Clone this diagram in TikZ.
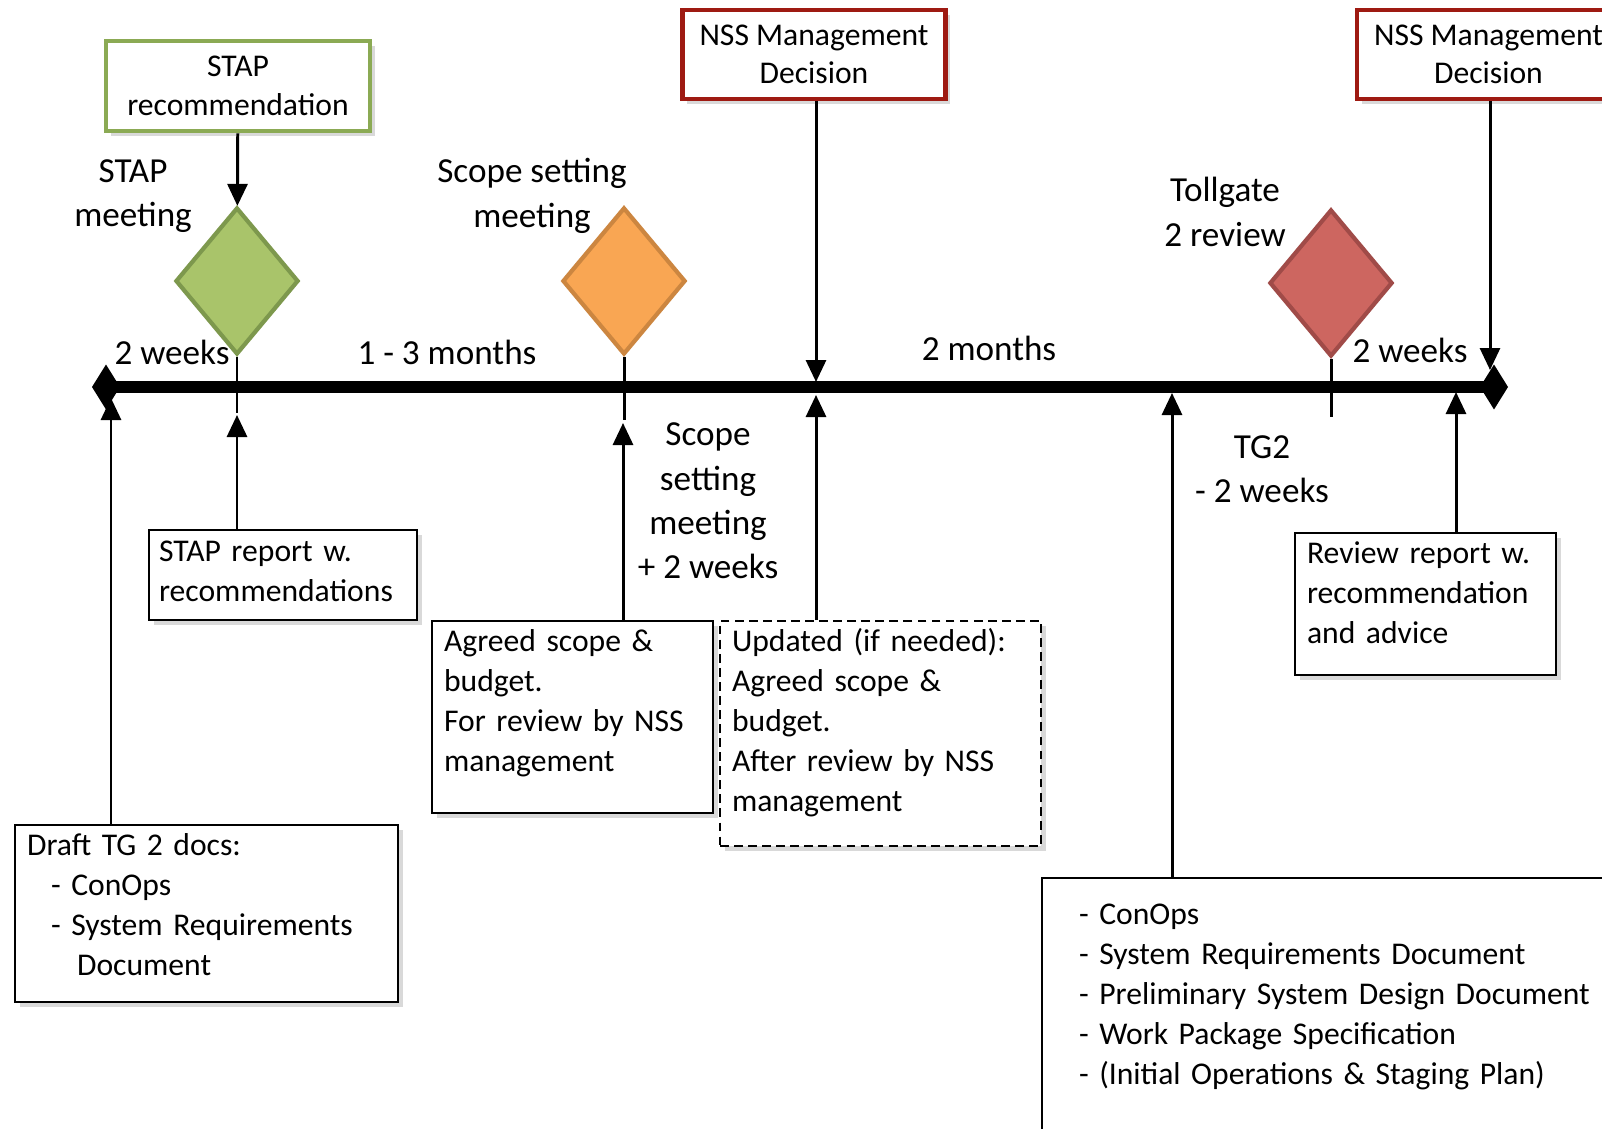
\documentclass[tikz,border=0pt]{standalone}
\usepackage{fontspec}
\setmainfont{Carlito}
\usepackage{tikz}
\usetikzlibrary{arrows.meta, shapes.geometric, shadows}

\definecolor{hijau}{RGB}{169,196,106}
\definecolor{hijaugaris}{RGB}{125,152,77}
\definecolor{hijaukotak}{RGB}{139,170,84}
\definecolor{oranye}{RGB}{249,166,83}
\definecolor{oranyegaris}{RGB}{204,134,64}
\definecolor{merah}{RGB}{205,102,96}
\definecolor{merahgaris}{RGB}{160,75,72}
\definecolor{merahkotak}{RGB}{158,26,18}

\begin{document}
\begin{tikzpicture}[
    font=\fontsize{10}{12.6}\selectfont,
    teks/.style={align=center, inner sep=0pt},
    wajik/.style={diamond, draw, line width=1.2pt, minimum width=1.23cm,
                  minimum height=1.47cm, inner sep=0pt},
    judul/.style={draw, fill=white, line width=1.3pt, minimum width=2.64cm,
                  minimum height=0.9cm, align=center, inner sep=0pt,
                  font=\fontsize{9}{11}\selectfont,
                  drop shadow={opacity=0.3, shadow xshift=1.3pt, shadow yshift=-1.3pt}},
    dok/.style={draw, fill=white, line width=0.6pt, anchor=north west, align=left,
                inner ysep=0pt, inner xsep=0.12cm, text height=0.30cm,
                font=\fontsize{9}{11.4}\selectfont,
                drop shadow={opacity=0.3, shadow xshift=1.3pt, shadow yshift=-1.3pt}},
    panah/.style={-{Triangle[length=2.2mm, width=2mm]}, line width=0.85pt},
    garis/.style={line width=0.85pt}
  ]
    \useasboundingbox (0,0) rectangle (16.02,-11.29);

    % garis waktu
    \coordinate (awal) at (0.92,-3.87);
    \coordinate (akhir) at (15.08,-3.87);
    \draw[line width=3.4pt, {Diamond[length=2.8mm, width=4.5mm]}-{Diamond[length=2.8mm, width=4.5mm]}]
      (awal) -- (akhir);

    % titik ujung panah
    \coordinate (tdraf) at (1.11,-3.98);
    \coordinate (tstap) at (2.37,-4.15);
    \coordinate (tscope) at (6.23,-4.23);
    \coordinate (tnss) at (8.16,-3.82);
    \coordinate (trevisi) at (8.16,-3.95);
    \coordinate (tdok) at (11.72,-3.93);
    \coordinate (ttoll) at (13.31,-4.17);
    \coordinate (tulasan) at (14.56,-3.92);
    \coordinate (tnssb) at (14.90,-3.70);

    % tonggak
    \node[wajik, fill=hijau, draw=hijaugaris] (stap) at (2.37,-2.81) {};
    \node[wajik, fill=oranye, draw=oranyegaris] (scope) at (6.24,-2.81) {};
    \node[wajik, fill=merah, draw=merahgaris] (toll) at (13.31,-2.83) {};
    \draw[garis] (stap.south) -- (stap.south |- 0,-4.13);
    \draw[garis] (scope.south) -- (scope.south |- 0,-4.20);
    \draw[garis] (toll.south) -- (ttoll);

    % kotak atas
    \node[judul, draw=hijaukotak] (rekom) at (2.38,-0.86) {STAP\\recommendation};
    \node[judul, draw=merahkotak, minimum width=2.63cm, minimum height=0.89cm] (nss) at (8.14,-0.545) {NSS Management\\Decision};
    \node[judul, draw=merahkotak, minimum width=2.63cm, minimum height=0.89cm] (nssb) at (14.885,-0.545) {NSS Management\\Decision};

    % kotak dokumen
    \node[dok, text width=3.59cm, text depth=1.47cm] (draf) at (0.14,-8.24)
      {Draft TG 2 docs:\\\hspace*{0.24cm}- ConOps\\\hspace*{0.24cm}- System Requirements\\\hspace*{0.50cm}Document};
    \node[dok, inner xsep=0.10cm, text width=2.48cm, text height=0.31cm, text depth=0.59cm] (laporan) at (1.48,-5.29)
      {STAP report w.\\recommendations};
    \node[dok, text width=2.57cm, text depth=1.62cm] (lingkup) at (4.31,-6.20)
      {Agreed scope \&\\budget.\\For review by NSS\\management};
    \node[dok, dash pattern=on 2.5pt off 1.5pt, text width=2.97cm, text depth=1.95cm] (revisi) at (7.19,-6.20)
      {Updated (if needed):\\Agreed scope \&\\budget.\\After review by NSS\\management};
    \node[dok, text width=2.37cm, text depth=1.12cm] (ulasan) at (12.94,-5.32)
      {Review report w.\\recommendation\\and advice};
    \node[dok, inner xsep=0.37cm, text width=5.46cm, text height=0.46cm, text depth=2.34cm] (dokumen) at (10.41,-8.77)
      {- ConOps\\- System Requirements Document\\- Preliminary System Design Document\\- Work Package Specification\\- (Initial Operations \& Staging Plan)};

    % panah
    \draw[panah] (rekom) -- (stap);
    \draw[panah] (nss.south -| tnss) -- (tnss);
    \draw[panah] (nssb.south -| tnssb) -- (tnssb);
    \draw[panah] (draf.north -| tdraf) -- (tdraf);
    \draw[panah] (laporan.north -| tstap) -- (tstap);
    \draw[panah] (lingkup.north -| tscope) -- (tscope);
    \draw[panah] (revisi.north -| trevisi) -- (trevisi);
    \draw[panah] (dokumen.north -| tdok) -- (tdok);
    \draw[panah] (ulasan.north -| tulasan) -- (tulasan);

    % keterangan
    \node[teks] (lblstap) at (1.33,-1.96) {STAP\\meeting};
    \node[teks] (lblscope) at (5.32,-1.96) {Scope setting\\meeting};
    \node[teks] (lbltoll) at (12.25,-2.12) {Tollgate\\2 review};
    \node[teks] (duaa) at (1.72,-3.52) {2 weeks};
    \node[teks] (bulana) at (4.47,-3.52) {1 - 3 months};
    \node[teks] (bulanb) at (9.89,-3.48) {2 months};
    \node[teks] (duab) at (14.10,-3.50) {2 weeks};
    \node[teks] (lblplus) at (7.08,-5.01) {Scope\\setting\\meeting\\+ 2 weeks};
    \node[teks] (lbltg) at (12.62,-4.69) {TG2\\- 2 weeks};
  \end{tikzpicture}
\end{document}
